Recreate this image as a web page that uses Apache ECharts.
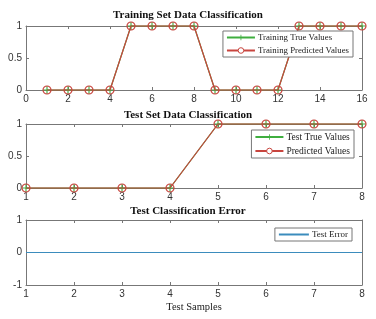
<!DOCTYPE html>
<html><head><meta charset="utf-8">
<script src="https://cdn.jsdelivr.net/npm/echarts@6/dist/echarts.min.js"></script>
<style>html,body{margin:0;padding:0;background:#fff}#c{width:376px;height:319px}</style>
</head><body><div id="c"></div>
<script>
const trainX = [1,2,3,4,5,6,7,8,9,10,11,12,13,14,15,16];
const trainTrue = [0,0,0,0,1,1,1,1,0,0,0,0,1,1,1,1];
const trainPred = [0,0,0,0,1,1,1,1,0,0,0,0,1,1,1,1];
const testX = [1,2,3,4,5,6,7,8];
const testTrue = [0,0,0,0,1,1,1,1];
const testPred = [0,0,0,0,1,1,1,1];
const testErr = [0,0,0,0,0,0,0,0];
const titles = ['Training Set Data Classification','Test Set Data Classification','Test Classification Error'];
const legendNames = [['Training True Values','Training Predicted Values'],['Test True Values','Predicted Values'],['Test Error']];
const xLabel = 'Test Samples';

const GREEN='#3fae3f', RED='#c8453e', BLUE='#3b8cbd', AX='#777';
const plus='path://M4.3,0h1.4v4.3h4.3v1.4h-4.3v4.3h-1.4v-4.3h-4.3v-1.4h4.3z';
const serif='"Liberation Serif","Times New Roman",serif';
const sans='"Liberation Sans",Arial,sans-serif';
const pair=(xs,ys)=>xs.map((x,i)=>[x,ys[i]]);

const grids=[{left:26,right:14,top:26,height:64},{left:26,right:14,top:124,height:64},{left:26,right:14,top:220,height:65}];
const xr=[[0,16,2],[1,8,1],[1,8,1]];
const yr=[[0,1,0.5],[0,1,0.5],[-1,1,1]];
const xAxis=[], yAxis=[];
const line={show:true,onZero:false,lineStyle:{color:AX,width:1}};
const tick={inside:true,length:3,lineStyle:{color:AX}};
grids.forEach((g,i)=>{
  xAxis.push({type:'value',gridIndex:i,min:xr[i][0],max:xr[i][1],interval:xr[i][2],position:'bottom',
    axisLine:line,axisTick:tick,
    axisLabel:{color:'#333',fontFamily:sans,fontSize:10,margin:4},splitLine:{show:false},
    name:i===2?xLabel:'',nameLocation:'middle',nameGap:17,nameTextStyle:{fontFamily:serif,fontSize:10.5,color:'#222'}});
  xAxis.push({type:'value',gridIndex:i,min:xr[i][0],max:xr[i][1],interval:xr[i][2],position:'top',
    axisLine:line,axisTick:tick,axisLabel:{show:false},splitLine:{show:false}});
  yAxis.push({type:'value',gridIndex:i,min:yr[i][0],max:yr[i][1],interval:yr[i][2],position:'left',
    axisLine:line,axisTick:tick,
    axisLabel:{color:'#333',fontFamily:sans,fontSize:10,margin:4},splitLine:{show:false}});
  yAxis.push({type:'value',gridIndex:i,min:yr[i][0],max:yr[i][1],interval:yr[i][2],position:'right',
    axisLine:line,axisTick:tick,axisLabel:{show:false},splitLine:{show:false}});
});
const trueS=(name,xi,data)=>({name,type:'line',xAxisIndex:xi*2,yAxisIndex:xi*2,data,symbol:plus,symbolSize:8,
  lineStyle:{color:GREEN,width:1.2},itemStyle:{color:GREEN},clip:false,animation:false,z:2});
const predS=(name,xi,data)=>({name,type:'line',xAxisIndex:xi*2,yAxisIndex:xi*2,data,symbol:'circle',symbolSize:8,showAllSymbol:true,
  lineStyle:{color:RED,width:1.2},itemStyle:{color:'rgba(0,0,0,0)',borderColor:RED,borderWidth:1.2},clip:false,animation:false,z:3});
const legBase=(fs)=>({orient:'vertical',backgroundColor:'#fff',borderColor:'#777',borderWidth:1,borderRadius:0,
  itemWidth:28,itemHeight:7,itemGap:4,padding:[2,4,2,3],textStyle:{fontFamily:serif,fontSize:fs,color:'#222',padding:[0,0,0,-2]}});
const predItem=(n)=>({name:n,itemStyle:{color:'#fff',borderColor:RED,borderWidth:1}});
const option={
  animation:false,
  title:titles.map((t,i)=>({text:t,left:'center',top:[10,110,206][i],padding:0,
    textStyle:{fontFamily:serif,fontWeight:'bold',fontSize:11,color:'#111'}})),
  grid:grids,xAxis,yAxis,
  legend:[
    Object.assign(legBase(8.8),{data:[legendNames[0][0],predItem(legendNames[0][1])],right:23,top:31}),
    Object.assign(legBase(9.5),{data:[legendNames[1][0],predItem(legendNames[1][1])],right:22,top:130}),
    Object.assign(legBase(9),{data:[legendNames[2][0]],itemWidth:30,right:24,top:228})
  ],
  series:[
    trueS(legendNames[0][0],0,pair(trainX,trainTrue)),
    predS(legendNames[0][1],0,pair(trainX,trainPred)),
    trueS(legendNames[1][0],1,pair(testX,testTrue)),
    predS(legendNames[1][1],1,pair(testX,testPred)),
    {name:legendNames[2][0],type:'line',xAxisIndex:4,yAxisIndex:4,data:pair(testX,testErr),
      symbol:'path://M0,0h1v1h-1z',showSymbol:false,
      lineStyle:{color:BLUE,width:1.2},itemStyle:{color:'rgba(0,0,0,0)',borderColor:'rgba(0,0,0,0)',borderWidth:0},animation:false}
  ]
};
echarts.init(document.getElementById('c'),null,{renderer:'canvas'}).setOption(option);
</script></body></html>
